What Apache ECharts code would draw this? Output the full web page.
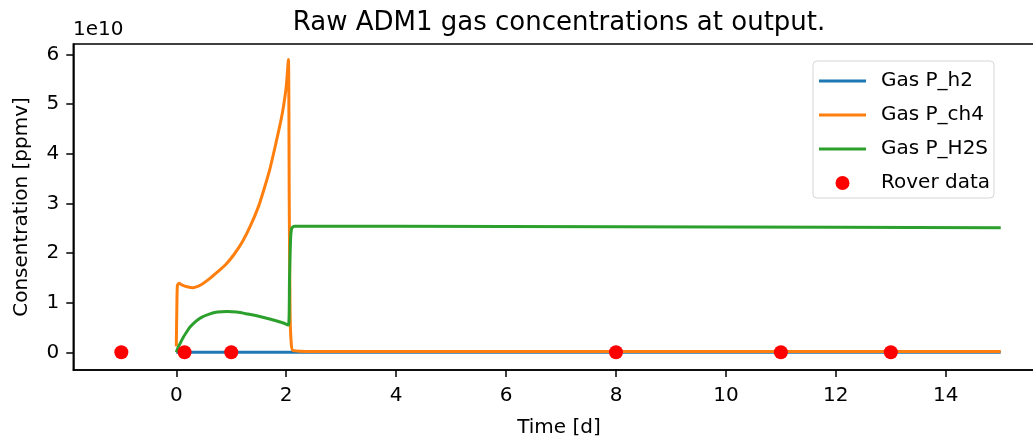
<!DOCTYPE html>
<html>
<head>
<meta charset="utf-8">
<script src="https://cdn.jsdelivr.net/npm/echarts@6/dist/echarts.min.js"></script>
<style>
html,body{margin:0;padding:0;background:#fff;}
#chart{width:1033px;height:444px;}
</style>
</head>
<body>
<div id="chart"></div>
<script>
// Values in units of 1e10 ppmv
const timeH2 = [0, 15];
const gasH2 = [0, 0];

const timeCH4 = [0, 0.01, 0.02, 0.05, 0.1, 0.2, 0.3, 0.45, 0.6, 0.75, 0.9, 1.05, 1.2, 1.35, 1.5, 1.6, 1.7, 1.8, 1.9, 1.95, 2.0, 2.04, 2.055, 2.07, 2.09, 2.12, 2.5, 5, 10, 15];
const gasCH4 = [0.12, 0.9, 1.35, 1.39, 1.36, 1.32, 1.30, 1.36, 1.48, 1.62, 1.77, 1.97, 2.22, 2.55, 2.95, 3.3, 3.68, 4.15, 4.65, 4.95, 5.35, 5.9, 3.0, 0.8, 0.2, 0.04, 0.015, 0.015, 0.015, 0.015];

const timeH2S = [0, 0.03, 0.07, 0.13, 0.2, 0.25, 0.35, 0.45, 0.6, 0.75, 0.92, 1.1, 1.3, 1.52, 1.7, 1.83, 1.95, 2.04, 2.06, 2.08, 2.1, 2.15, 4, 8, 12, 15];
const gasH2S = [0, 0.09, 0.18, 0.31, 0.43, 0.51, 0.62, 0.7, 0.77, 0.81, 0.82, 0.81, 0.77, 0.72, 0.67, 0.63, 0.59, 0.55, 1.5, 2.3, 2.5, 2.54, 2.54, 2.53, 2.52, 2.51];

const roverTime = [-1, 0.15, 1, 8, 11, 13];
const roverValue = [0, 0, 0, 0, 0, 0];

const xTicks = [0, 2, 4, 6, 8, 10, 12, 14];
const yTicks = [0, 1, 2, 3, 4, 5, 6];

const pairs = (t, v) => t.map((x, i) => [x, v[i]]);
const FONT = 'DejaVu Sans';
const LINE_ICON = 'path://M0,0H47V3H0Z';

const chart = echarts.init(document.getElementById('chart'), null, {renderer: 'canvas'});
chart.setOption({
  animation: false,
  backgroundColor: '#fff',
  textStyle: {fontFamily: FONT},
  title: {
    text: 'Raw ADM1 gas concentrations at output.',
    left: 559, top: 10, textAlign: 'center', padding: 0,
    textStyle: {fontFamily: FONT, fontSize: 26, fontWeight: 'normal', color: '#000'}
  },
  graphic: [{
    type: 'text', left: 73, top: 20,
    style: {text: '1e10', font: '20px "DejaVu Sans"', fill: '#000'}
  }],
  grid: {
    left: 73.3, top: 44, width: 971.4, height: 326,
    outerBoundsMode: 'none', containLabel: false,
    show: true, borderColor: '#000', borderWidth: 1.5, backgroundColor: 'transparent'
  },
  legend: {
    orient: 'vertical', left: 813, top: 61,
    padding: [10, 4, 5, 6],
    itemWidth: 47, itemHeight: 14, itemGap: 14,
    backgroundColor: 'rgba(255,255,255,0.8)',
    borderColor: '#d6d6d6', borderWidth: 1, borderRadius: 4,
    textStyle: {fontFamily: FONT, fontSize: 20, color: '#000', padding: [0, 0, 0, 10]},
    data: [
      {name: 'Gas P_h2', icon: LINE_ICON},
      {name: 'Gas P_ch4', icon: LINE_ICON},
      {name: 'Gas P_H2S', icon: LINE_ICON},
      {name: 'Rover data', icon: 'circle'}
    ]
  },
  xAxis: {
    type: 'value', min: -1.874, max: 15.8,
    name: 'Time [d]', nameLocation: 'middle', nameGap: 48,
    nameTextStyle: {fontFamily: FONT, fontSize: 20, color: '#000'},
    axisLine: {show: true, onZero: false, lineStyle: {color: '#000', width: 1.5}},
    axisTick: {show: true, length: 7, lineStyle: {color: '#000', width: 1.5}, customValues: xTicks},
    axisLabel: {fontFamily: FONT, fontSize: 20, color: '#000', margin: 16, customValues: xTicks},
    splitLine: {show: false}
  },
  yAxis: {
    type: 'value', min: -0.356, max: 6.21,
    name: 'Consentration [ppmv]', nameLocation: 'middle', nameGap: 42, nameRotate: 90,
    nameTextStyle: {fontFamily: FONT, fontSize: 20, color: '#000'},
    axisLine: {show: true, onZero: false, lineStyle: {color: '#000', width: 1.5}},
    axisTick: {show: true, length: 7, lineStyle: {color: '#000', width: 1.5}, customValues: yTicks},
    axisLabel: {fontFamily: FONT, fontSize: 20, color: '#000', margin: 14, customValues: yTicks},
    splitLine: {show: false}
  },
  series: [
    {name: 'Gas P_h2', type: 'line', data: pairs(timeH2, gasH2), symbol: 'none', showSymbol: false,
     lineStyle: {color: '#1f77b4', width: 3}, itemStyle: {color: '#1f77b4'}},
    {name: 'Gas P_ch4', type: 'line', data: pairs(timeCH4, gasCH4), symbol: 'none', showSymbol: false, smooth: 0.2,
     lineStyle: {color: '#ff7f0e', width: 3}, itemStyle: {color: '#ff7f0e'}},
    {name: 'Gas P_H2S', type: 'line', data: pairs(timeH2S, gasH2S), symbol: 'none', showSymbol: false, smooth: 0.2,
     lineStyle: {color: '#2ca02c', width: 3}, itemStyle: {color: '#2ca02c'}},
    {name: 'Rover data', type: 'scatter', data: pairs(roverTime, roverValue), symbol: 'circle', symbolSize: 14,
     itemStyle: {color: '#ff0000', opacity: 1}, z: 5}
  ]
});
</script>
</body>
</html>
